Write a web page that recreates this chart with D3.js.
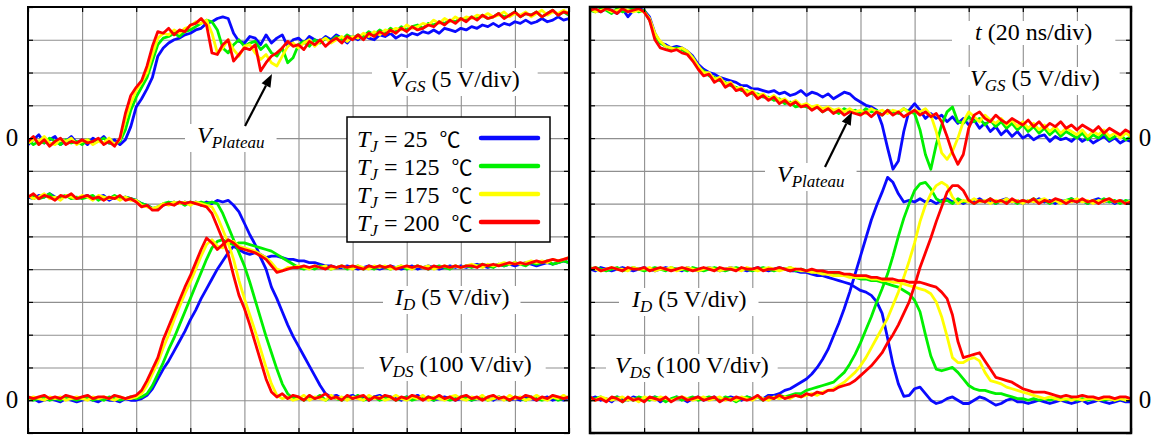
<!DOCTYPE html>
<html>
<head>
<meta charset="utf-8">
<script src="https://cdn.jsdelivr.net/npm/d3@7"></script>
<style>
  body { margin: 0; background: #fff; }
  svg { display: block; }
  text { font-family: "Liberation Serif", "DejaVu Serif", serif; }
</style>
</head>
<body>
<svg id="chart" width="1156" height="435"></svg>
<script>
// scope traces, one sample every 0.1 div (20 ns/div), values in divisions above each trace's own zero line
var temps = ["25", "125", "175", "200"];
var colors = ["#0a0aff", "#00f000", "#ffff00", "#ff0000"];
var serif = "'Liberation Serif', 'DejaVu Serif', serif";

// ---- turn-on (left) ----
var onVgs25 = [-0.2, -0.05, 0.1, -0.15, -0.05, 0.05, -0.2, -0.1, 0.05, -0.15,
  -0.05, -0.2, 0.0, -0.1, 0.05, -0.15, -0.05, -0.2, -0.05, 0.35,
  0.95, 1.2, 1.5, 1.85, 2.5, 2.75, 2.9, 3.0, 3.05, 3.15,
  3.2, 3.3, 3.35, 3.5, 3.55, 3.65, 3.7, 3.65, 3.2, 2.95,
  2.9, 3.1, 3.05, 2.85, 3.15, 2.9, 3.05, 3.15, 2.8, 3.0,
  3.05, 2.9, 3.1, 3.0, 2.95, 3.1, 3.0, 3.15, 3.05, 2.9,
  3.1, 3.0, 3.15, 3.05, 3.0, 3.15, 3.1, 3.2, 3.05, 3.15,
  3.1, 3.2, 3.15, 3.25, 3.2, 3.3, 3.2, 3.35, 3.3, 3.25,
  3.35, 3.3, 3.4, 3.35, 3.45, 3.4, 3.5, 3.4, 3.5, 3.45,
  3.55, 3.5, 3.6, 3.5, 3.55, 3.65, 3.55, 3.6, 3.7, 3.6, 3.65];
var onVgs125 = [-0.05, -0.2, -0.1, -0.15, 0.0, -0.1, -0.2, -0.05, -0.15, -0.1,
  -0.2, -0.05, -0.15, -0.1, 0.0, -0.15, -0.2, -0.1, 0.25, 0.85,
  1.25, 1.55, 1.85, 2.35, 2.85, 3.05, 3.1, 3.2, 3.1, 3.25,
  3.3, 3.4, 3.5, 3.6, 3.55, 3.3, 2.75, 2.6, 2.85, 3.0,
  2.8, 2.9, 2.95, 2.7, 2.85, 2.6, 2.5, 2.75, 2.3, 2.45,
  2.85, 2.95, 2.8, 3.0, 2.9, 3.05, 2.95, 3.1, 3.0, 3.15,
  3.05, 3.15, 3.1, 3.25, 3.15, 3.3, 3.2, 3.35, 3.25, 3.4,
  3.3, 3.4, 3.45, 3.35, 3.5, 3.45, 3.55, 3.5, 3.6, 3.55,
  3.65, 3.6, 3.7, 3.65, 3.75, 3.65, 3.7, 3.8, 3.7, 3.75,
  3.85, 3.7, 3.8, 3.75, 3.85, 3.7, 3.8, 3.9, 3.75, 3.85, 3.75];
var onVgs175 = [-0.15, -0.05, -0.1, 0.05, -0.15, -0.2, -0.05, -0.1, 0.0, -0.2,
  -0.1, -0.05, -0.2, -0.1, -0.15, 0.0, -0.2, -0.05, 0.55, 1.05,
  1.45, 1.7, 2.0, 2.55, 3.05, 3.2, 3.15, 3.3, 3.2, 3.35,
  3.4, 3.55, 3.5, 3.6, 3.2, 2.6, 2.75, 3.0, 2.7, 2.5,
  2.8, 2.85, 2.6, 2.4, 2.55, 2.3, 2.2, 2.5, 2.8, 2.9,
  2.75, 2.9, 3.0, 2.8, 2.95, 3.05, 2.9, 3.0, 3.1, 2.95,
  3.1, 3.05, 3.2, 3.1, 3.25, 3.15, 3.3, 3.25, 3.35, 3.3,
  3.45, 3.35, 3.4, 3.5, 3.45, 3.6, 3.5, 3.65, 3.55, 3.7,
  3.6, 3.7, 3.65, 3.75, 3.7, 3.8, 3.7, 3.75, 3.85, 3.7,
  3.8, 3.75, 3.85, 3.7, 3.8, 3.9, 3.75, 3.85, 3.8, 3.9, 3.8];
var onVgs200 = [-0.1, 0.05, -0.2, -0.05, -0.25, -0.1, 0.0, -0.2, -0.1, -0.15,
  -0.05, -0.15, -0.1, 0.0, -0.2, -0.1, -0.25, 0.0, 0.75, 1.3,
  1.55, 1.75, 2.2, 2.8, 3.25, 3.2, 3.35, 3.15, 3.3, 3.25,
  3.45, 3.5, 3.65, 3.45, 2.6, 2.55, 2.85, 3.0, 2.35, 2.55,
  2.75, 2.7, 2.85, 2.05, 2.3, 2.5, 2.6, 2.75, 2.95, 2.8,
  2.85, 2.7, 2.95, 2.85, 3.0, 2.8, 2.95, 3.05, 2.9, 3.1,
  3.0, 3.15, 3.0, 3.2, 3.1, 3.25, 3.15, 3.3, 3.2, 3.35,
  3.25, 3.4, 3.3, 3.35, 3.45, 3.4, 3.55, 3.45, 3.6, 3.5,
  3.65, 3.55, 3.7, 3.6, 3.75, 3.65, 3.7, 3.8, 3.65, 3.75,
  3.85, 3.7, 3.8, 3.75, 3.85, 3.7, 3.8, 3.9, 3.75, 3.85, 3.8];

var onVds25 = [6.2, 6.15, 6.25, 6.2, 6.3, 6.2, 6.15, 6.25, 6.2, 6.15,
  6.2, 6.25, 6.15, 6.2, 6.25, 6.1, 6.2, 6.15, 6.2, 6.15,
  6.1, 6.0, 5.95, 5.85, 5.85, 5.95, 6.0, 6.05, 6.0, 6.05,
  6.0, 6.05, 5.95, 6.05, 6.0, 6.1, 6.05, 6.1, 5.95, 5.75,
  5.4, 5.05, 4.75, 4.35, 4.0, 3.45, 3.1, 2.7, 2.3, 1.95,
  1.65, 1.35, 1.05, 0.75, 0.45, 0.2, 0.1, 0.15, 0.05, 0.1,
  0.15, 0.05, 0.1, 0.0, 0.1, 0.15, 0.05, 0.1, 0.05, 0.0,
  0.1, 0.05, 0.15, 0.05, 0.1, 0.0, 0.05, 0.1, 0.05, 0.0,
  0.05, 0.1, 0.0, 0.05, 0.1, 0.05, 0.0, 0.1, 0.05, 0.0,
  0.05, 0.0, 0.1, 0.05, 0.0, 0.05, 0.1, 0.0, 0.05, 0.0, 0.05];
var onVds125 = [6.2, 6.25, 6.15, 6.2, 6.3, 6.15, 6.2, 6.25, 6.15, 6.2,
  6.15, 6.2, 6.25, 6.1, 6.2, 6.15, 6.25, 6.15, 6.2, 6.15,
  6.1, 6.0, 5.95, 5.85, 5.9, 6.0, 6.05, 6.0, 6.05, 5.95,
  6.05, 6.0, 6.05, 6.0, 6.05, 6.0, 5.7, 5.3, 4.9, 4.5,
  4.1, 3.6, 3.05, 2.5, 1.95, 1.45, 0.95, 0.5, 0.2, 0.05,
  0.1, 0.0, 0.1, 0.05, 0.15, 0.0, 0.1, 0.05, 0.0, 0.1,
  0.05, 0.15, 0.0, 0.05, 0.1, 0.0, 0.05, 0.1, 0.0, 0.05,
  0.1, 0.0, 0.05, 0.1, 0.05, 0.0, 0.1, 0.05, 0.0, 0.05,
  0.1, 0.05, 0.0, 0.05, 0.1, 0.0, 0.05, 0.1, 0.05, 0.0,
  0.1, 0.05, 0.0, 0.1, 0.05, 0.0, 0.05, 0.1, 0.0, 0.05, 0.1];
var onVds175 = [6.25, 6.15, 6.2, 6.3, 6.15, 6.2, 6.1, 6.25, 6.2, 6.15,
  6.25, 6.2, 6.1, 6.25, 6.2, 6.15, 6.2, 6.1, 6.2, 6.1,
  6.1, 5.95, 5.9, 5.85, 5.9, 6.0, 5.95, 6.05, 6.0, 6.05,
  5.95, 6.05, 6.0, 5.95, 5.9, 5.6, 5.2, 4.8, 4.3, 3.65,
  3.1, 2.6, 2.1, 1.55, 1.0, 0.5, 0.15, 0.05, 0.1, 0.0,
  0.05, 0.15, 0.0, 0.1, 0.05, 0.0, 0.15, 0.05, 0.1, 0.0,
  0.1, 0.05, 0.0, 0.15, 0.05, 0.1, 0.0, 0.05, 0.15, 0.05,
  0.0, 0.1, 0.05, 0.15, 0.0, 0.1, 0.05, 0.0, 0.1, 0.15,
  0.05, 0.0, 0.1, 0.05, 0.15, 0.0, 0.05, 0.1, 0.0, 0.15,
  0.05, 0.1, 0.0, 0.05, 0.15, 0.05, 0.0, 0.1, 0.05, 0.15, 0.05];
var onVds200 = [6.2, 6.3, 6.15, 6.25, 6.2, 6.1, 6.25, 6.2, 6.3, 6.15,
  6.2, 6.25, 6.15, 6.2, 6.1, 6.2, 6.15, 6.25, 6.1, 6.15,
  6.05, 5.9, 5.95, 5.8, 5.8, 5.95, 6.0, 5.95, 6.05, 6.0,
  6.05, 6.0, 5.95, 5.9, 5.7, 5.3, 4.9, 4.45, 3.8, 3.2,
  2.8, 2.3, 1.75, 1.2, 0.65, 0.25, 0.1, 0.2, 0.05, 0.15,
  0.1, 0.0, 0.15, 0.05, 0.1, 0.2, 0.05, 0.1, 0.0, 0.15,
  0.05, 0.1, 0.15, 0.0, 0.1, 0.05, 0.15, 0.1, 0.0, 0.1,
  0.05, 0.15, 0.1, 0.0, 0.1, 0.05, 0.15, 0.05, 0.1, 0.0,
  0.1, 0.15, 0.05, 0.1, 0.0, 0.1, 0.15, 0.05, 0.1, 0.0,
  0.1, 0.05, 0.15, 0.1, 0.0, 0.1, 0.05, 0.15, 0.1, 0.05, 0.1];

var onId25 = [0.0, 0.05, -0.05, 0.0, 0.05, 0.0, -0.05, 0.05, 0.0, -0.05,
  0.0, 0.05, 0.0, -0.05, 0.05, 0.0, 0.0, -0.05, 0.05, 0.0,
  0.0, 0.05, 0.15, 0.35, 0.65, 0.95, 1.2, 1.5, 1.8, 2.1,
  2.45, 2.75, 3.1, 3.4, 3.7, 4.0, 4.25, 4.5, 4.7, 4.6,
  4.5, 4.45, 4.5, 4.45, 4.35, 4.4, 4.4, 4.35, 4.3, 4.3,
  4.25, 4.25, 4.2, 4.2, 4.15, 4.1, 4.1, 4.05, 4.05, 4.1,
  4.05, 4.0, 4.05, 4.1, 4.05, 4.0, 4.05, 4.1, 4.05, 4.0,
  4.05, 4.1, 4.0, 4.05, 4.1, 4.05, 4.0, 4.05, 4.1, 4.05,
  4.1, 4.05, 4.1, 4.15, 4.1, 4.05, 4.1, 4.15, 4.1, 4.15,
  4.1, 4.15, 4.2, 4.15, 4.1, 4.15, 4.2, 4.15, 4.2, 4.25, 4.2];
var onId125 = [0.05, 0.0, 0.05, 0.1, 0.0, 0.05, 0.0, 0.1, 0.05, 0.0,
  0.05, 0.1, 0.0, 0.05, 0.0, 0.1, 0.05, 0.0, 0.05, 0.1,
  0.05, 0.1, 0.2, 0.45, 0.8, 1.15, 1.55, 1.9, 2.3, 2.7,
  3.1, 3.5, 3.9, 4.3, 4.65, 4.85, 4.9, 4.8, 4.75, 4.8,
  4.8, 4.75, 4.7, 4.65, 4.6, 4.55, 4.45, 4.35, 4.25, 4.15,
  4.05, 4.0, 4.05, 4.0, 4.1, 4.05, 4.0, 4.05, 4.1, 4.0,
  4.05, 4.1, 4.0, 4.05, 4.0, 4.1, 4.05, 4.0, 4.05, 4.1,
  4.0, 4.05, 4.1, 4.05, 4.0, 4.05, 4.1, 4.05, 4.0, 4.1,
  4.05, 4.1, 4.05, 4.1, 4.15, 4.1, 4.05, 4.15, 4.1, 4.15,
  4.2, 4.15, 4.1, 4.2, 4.15, 4.2, 4.25, 4.15, 4.2, 4.25, 4.2];
var onId175 = [0.05, 0.1, 0.05, 0.0, 0.1, 0.05, 0.1, 0.0, 0.05, 0.1,
  0.05, 0.0, 0.1, 0.05, 0.1, 0.05, 0.0, 0.1, 0.05, 0.05,
  0.1, 0.2, 0.45, 0.8, 1.15, 1.6, 2.0, 2.45, 2.85, 3.25,
  3.6, 4.0, 4.4, 4.75, 4.9, 4.7, 4.65, 4.85, 4.85, 4.7,
  4.65, 4.6, 4.55, 4.45, 4.35, 4.2, 4.0, 3.95, 4.05, 4.05,
  4.1, 4.05, 4.0, 4.1, 4.05, 4.1, 4.0, 4.05, 4.1, 4.05,
  4.0, 4.1, 4.05, 4.0, 4.1, 4.05, 4.1, 4.0, 4.05, 4.1,
  4.05, 4.0, 4.1, 4.05, 4.1, 4.0, 4.05, 4.1, 4.05, 4.1,
  4.05, 4.1, 4.15, 4.1, 4.05, 4.15, 4.1, 4.15, 4.2, 4.15,
  4.2, 4.15, 4.2, 4.25, 4.2, 4.25, 4.2, 4.3, 4.25, 4.3, 4.35];
var onId200 = [0.1, 0.05, 0.1, 0.15, 0.05, 0.1, 0.05, 0.15, 0.1, 0.05,
  0.1, 0.15, 0.05, 0.1, 0.1, 0.05, 0.15, 0.1, 0.05, 0.1,
  0.15, 0.3, 0.6, 0.95, 1.3, 1.85, 2.25, 2.65, 3.05, 3.45,
  3.8, 4.2, 4.6, 4.95, 4.8, 4.6, 4.75, 4.9, 4.8, 4.65,
  4.6, 4.55, 4.5, 4.4, 4.3, 4.1, 3.9, 3.95, 4.0, 4.05,
  4.05, 4.1, 4.05, 4.1, 4.05, 4.0, 4.1, 4.05, 4.1, 4.05,
  4.1, 4.05, 4.0, 4.1, 4.05, 4.1, 4.05, 4.1, 4.0, 4.05,
  4.1, 4.05, 4.1, 4.05, 4.0, 4.1, 4.05, 4.1, 4.05, 4.1,
  4.05, 4.1, 4.1, 4.05, 4.15, 4.1, 4.15, 4.1, 4.15, 4.2,
  4.15, 4.2, 4.15, 4.2, 4.25, 4.2, 4.25, 4.3, 4.25, 4.3, 4.35];

// ---- turn-off (right) ----
var offVgs25 = [3.95, 3.9, 3.85, 3.95, 3.9, 3.8, 3.95, 3.7, 3.9, 3.95,
  3.9, 3.7, 3.2, 2.9, 2.85, 2.75, 2.8, 2.75, 2.65, 2.5,
  2.25, 2.1, 2.0, 1.95, 1.85, 1.8, 1.75, 1.7, 1.6, 1.6,
  1.5, 1.5, 1.45, 1.4, 1.45, 1.35, 1.4, 1.3, 1.35, 1.45,
  1.3, 1.4, 1.35, 1.25, 1.35, 1.2, 1.3, 1.4, 1.35, 1.2,
  1.1, 1.0, 0.95, 0.85, 0.4, -0.3, -0.95, -0.7, 0.2, 0.85,
  1.05, 0.85, 0.6, 0.75, 0.6, 0.7, 0.5, 0.65, 0.45, 0.6,
  0.4, 0.55, 0.3, 0.45, 0.2, 0.35, 0.1, 0.25, 0.05, 0.2,
  0.0, 0.1, -0.05, 0.05, 0.1, -0.1, 0.05, -0.05, 0.0, -0.1,
  0.05, -0.1, 0.0, -0.15, -0.05, 0.05, -0.1, 0.0, -0.15, -0.05, -0.1];
var offVgs125 = [3.9, 3.85, 3.95, 3.9, 3.8, 3.95, 3.85, 3.9, 3.95, 3.85,
  3.9, 3.6, 3.15, 2.9, 2.8, 2.7, 2.75, 2.7, 2.6, 2.45,
  2.15, 2.05, 1.9, 1.85, 1.75, 1.7, 1.6, 1.55, 1.45, 1.45,
  1.35, 1.35, 1.25, 1.25, 1.15, 1.2, 1.05, 1.1, 0.95, 1.0,
  0.95, 0.9, 0.95, 0.8, 0.9, 0.85, 0.75, 0.9, 0.8, 0.85,
  0.75, 0.9, 0.8, 0.85, 0.7, 0.85, 0.8, 0.75, 0.9, 0.8,
  0.75, 0.25, -0.5, -0.95, -0.2, 0.4, 0.8, 0.95, 0.5, 0.45,
  0.65, 0.5, 0.6, 0.4, 0.55, 0.35, 0.5, 0.3, 0.45, 0.25,
  0.4, 0.2, 0.35, 0.15, 0.3, 0.1, 0.25, 0.05, 0.2, 0.1,
  0.0, 0.15, -0.05, 0.1, 0.0, 0.15, -0.05, 0.05, 0.1, -0.05, 0.05];
var offVgs175 = [3.95, 3.85, 3.9, 3.95, 3.85, 3.9, 3.95, 3.9, 3.85, 3.9,
  3.85, 3.65, 3.2, 2.95, 2.8, 2.75, 2.7, 2.75, 2.65, 2.45,
  2.2, 2.0, 2.0, 1.8, 1.85, 1.65, 1.7, 1.5, 1.55, 1.4,
  1.45, 1.3, 1.35, 1.2, 1.3, 1.15, 1.2, 1.05, 1.15, 1.0,
  1.05, 0.95, 1.0, 0.9, 0.95, 0.85, 0.9, 0.8, 0.9, 0.8,
  0.85, 0.75, 0.9, 0.8, 0.85, 0.75, 0.85, 0.8, 0.9, 0.75,
  0.85, 0.8, 0.9, 0.7, 0.2, -0.45, -0.65, -0.4, 0.0, 0.5,
  0.8, 0.65, 0.5, 0.7, 0.55, 0.45, 0.6, 0.4, 0.55, 0.35,
  0.5, 0.3, 0.45, 0.25, 0.4, 0.2, 0.35, 0.15, 0.3, 0.2,
  0.1, 0.25, 0.05, 0.2, 0.1, 0.25, 0.05, 0.15, 0.0, 0.15, 0.05];
var offVgs200 = [3.9, 3.95, 3.85, 3.95, 3.9, 3.8, 3.95, 3.85, 3.9, 3.95,
  3.85, 3.6, 3.0, 2.75, 2.7, 2.65, 2.7, 2.6, 2.55, 2.35,
  2.1, 1.9, 1.95, 1.7, 1.8, 1.55, 1.65, 1.45, 1.5, 1.3,
  1.4, 1.2, 1.3, 1.15, 1.25, 1.05, 1.15, 1.0, 1.1, 0.95,
  1.0, 0.85, 0.95, 0.8, 0.9, 0.75, 0.85, 0.7, 0.8, 0.75,
  0.7, 0.8, 0.65, 0.8, 0.7, 0.85, 0.7, 0.8, 0.65, 0.75,
  0.85, 0.7, 0.8, 0.65, 0.75, 0.5, 0.05, -0.45, -0.8, -0.5,
  0.3, 0.7, 0.8, 0.6, 0.5, 0.7, 0.55, 0.45, 0.6, 0.5,
  0.4, 0.55, 0.35, 0.5, 0.3, 0.45, 0.35, 0.5, 0.3, 0.4,
  0.25, 0.4, 0.3, 0.2, 0.35, 0.15, 0.3, 0.2, 0.1, 0.25, 0.15];

var offVds25 = [0.05, 0.1, 0.0, 0.05, -0.05, 0.1, 0.05, 0.0, 0.1, 0.05,
  0.0, 0.05, 0.1, -0.05, 0.05, 0.0, 0.1, 0.05, -0.05, 0.05,
  0.1, 0.0, 0.05, 0.1, 0.0, 0.05, 0.1, 0.05, 0.0, 0.1,
  0.05, 0.1, 0.05, 0.15, 0.15, 0.2, 0.3, 0.35, 0.45, 0.55,
  0.65, 0.8, 1.0, 1.25, 1.55, 1.95, 2.35, 2.8, 3.3, 3.85,
  4.4, 4.95, 5.5, 5.95, 6.35, 6.8, 6.65, 6.3, 6.05, 6.1,
  6.05, 6.15, 6.05, 6.1, 6.0, 6.1, 6.15, 6.05, 6.1, 6.0,
  6.1, 6.05, 6.15, 6.05, 6.1, 6.0, 6.1, 6.15, 6.05, 6.1,
  6.0, 6.1, 6.05, 6.15, 6.05, 6.1, 6.0, 6.1, 6.05, 6.15,
  6.05, 6.1, 6.0, 6.1, 6.15, 6.05, 6.1, 6.0, 6.1, 6.05, 6.1];
var offVds125 = [0.0, 0.05, 0.1, 0.0, 0.05, 0.1, -0.05, 0.05, 0.0, 0.1,
  0.05, 0.0, 0.1, 0.05, -0.05, 0.05, 0.1, 0.0, 0.05, 0.1,
  0.0, 0.05, 0.1, 0.05, 0.0, 0.1, 0.05, -0.05, 0.05, 0.1,
  0.05, 0.1, 0.0, 0.1, 0.05, 0.15, 0.1, 0.15, 0.2, 0.2,
  0.3, 0.35, 0.4, 0.45, 0.5, 0.55, 0.7, 0.85, 1.1, 1.4,
  1.75, 2.15, 2.55, 3.0, 3.4, 3.85, 4.4, 5.0, 5.55, 6.0,
  6.4, 6.6, 6.65, 6.45, 6.15, 6.05, 6.1, 6.0, 6.15, 6.05,
  6.1, 6.0, 6.1, 6.05, 6.15, 6.0, 6.1, 6.05, 6.1, 6.0,
  6.1, 6.05, 6.15, 6.05, 6.1, 6.0, 6.1, 6.05, 6.1, 6.15,
  6.05, 6.1, 6.0, 6.1, 6.05, 6.15, 6.05, 6.1, 6.0, 6.1, 6.05];
var offVds175 = [0.05, 0.0, 0.1, 0.05, 0.0, 0.05, 0.1, 0.0, 0.05, -0.05,
  0.1, 0.05, 0.0, 0.1, 0.05, 0.0, 0.05, 0.1, 0.05, 0.0,
  0.05, 0.1, 0.0, 0.05, 0.1, 0.0, 0.05, 0.0, 0.1, 0.05,
  0.0, 0.1, 0.05, 0.0, 0.1, 0.05, 0.1, 0.05, 0.15, 0.1,
  0.15, 0.2, 0.15, 0.25, 0.3, 0.35, 0.45, 0.55, 0.7, 0.85,
  1.05, 1.3, 1.6, 1.9, 2.2, 2.5, 2.9, 3.3, 3.75, 4.25,
  4.8, 5.45, 5.95, 6.3, 6.55, 6.65, 6.55, 6.2, 6.0, 6.1,
  6.05, 6.15, 6.05, 6.1, 6.0, 6.1, 6.05, 6.15, 6.05, 6.1,
  6.0, 6.1, 6.05, 6.1, 6.15, 6.05, 6.1, 6.0, 6.1, 6.05,
  6.15, 6.05, 6.1, 6.0, 6.1, 6.05, 6.15, 6.05, 6.1, 6.0, 6.1];
var offVds200 = [0.1, 0.0, 0.05, -0.05, 0.1, 0.05, -0.05, 0.1, 0.0, 0.05,
  -0.05, 0.1, 0.05, 0.0, 0.1, -0.05, 0.05, 0.1, 0.0, 0.05,
  0.1, 0.0, 0.05, 0.1, -0.05, 0.05, 0.0, 0.1, 0.05, 0.0,
  0.05, 0.15, 0.0, 0.1, 0.05, 0.15, 0.05, 0.1, 0.15, 0.1,
  0.2, 0.15, 0.25, 0.2, 0.3, 0.3, 0.4, 0.45, 0.5, 0.6,
  0.75, 0.9, 1.05, 1.25, 1.45, 1.75, 2.0, 2.3, 2.65, 3.0,
  3.5, 4.05, 4.5, 4.95, 5.45, 5.9, 6.35, 6.55, 6.55, 6.4,
  6.1, 6.0, 6.1, 6.05, 6.15, 6.05, 6.1, 6.0, 6.15, 6.05,
  6.1, 6.05, 6.15, 6.0, 6.1, 6.05, 6.15, 6.1, 6.0, 6.1,
  6.05, 6.15, 6.05, 6.1, 6.0, 6.1, 6.15, 6.05, 6.1, 6.0, 6.05];

var offId25 = [4.0, 3.95, 4.05, 4.0, 3.95, 4.0, 4.05, 4.0, 3.95, 4.0,
  4.05, 4.0, 3.95, 4.0, 4.05, 4.0, 4.0, 3.95, 4.05, 4.0,
  3.95, 4.0, 4.05, 4.0, 3.95, 4.0, 4.05, 4.0, 4.0, 3.95,
  4.0, 4.05, 4.0, 3.95, 4.0, 4.05, 4.0, 3.95, 3.95, 3.9,
  3.9, 3.85, 3.8, 3.8, 3.75, 3.7, 3.65, 3.6, 3.55, 3.45,
  3.35, 3.3, 3.2, 3.0, 2.65, 1.9, 1.1, 0.5, 0.12, 0.15,
  0.35, 0.4, 0.2, 0.0, -0.1, -0.05, 0.05, 0.1, 0.0, -0.1,
  -0.1, 0.0, 0.1, 0.05, -0.05, -0.15, -0.1, 0.0, 0.05, -0.05,
  -0.05, -0.1, -0.05, 0.0, -0.05, -0.1, -0.05, 0.0, -0.05, -0.1,
  -0.05, 0.0, -0.1, -0.05, 0.0, -0.05, -0.1, -0.05, 0.0, -0.05, -0.05];
var offId125 = [4.0, 4.05, 4.0, 3.95, 4.0, 4.05, 3.95, 4.0, 4.05, 4.0,
  3.95, 4.0, 4.05, 4.0, 3.95, 4.05, 4.0, 4.0, 3.95, 4.05,
  4.0, 3.95, 4.0, 4.05, 4.0, 3.95, 4.0, 4.05, 4.0, 4.0,
  3.95, 4.0, 4.05, 4.0, 3.95, 4.0, 4.0, 4.05, 3.95, 4.0,
  3.95, 3.95, 3.9, 3.9, 3.9, 3.85, 3.85, 3.8, 3.8, 3.75,
  3.7, 3.7, 3.65, 3.65, 3.6, 3.55, 3.5, 3.45, 3.35, 3.25,
  3.05, 2.7, 2.0, 1.35, 0.95, 0.9, 0.95, 1.0, 0.85, 0.65,
  0.45, 0.35, 0.3, 0.3, 0.25, 0.2, 0.2, 0.15, 0.1, 0.05,
  0.05, 0.0, 0.05, 0.0, 0.05, 0.0, 0.05, 0.05, 0.0, 0.05,
  0.0, 0.05, 0.0, 0.05, 0.05, 0.0, 0.05, 0.0, 0.05, 0.0, 0.05];
var offId175 = [4.05, 4.0, 3.95, 4.0, 4.05, 4.0, 4.0, 3.95, 4.05, 4.0,
  4.0, 4.05, 3.95, 4.0, 4.0, 4.05, 3.95, 4.0, 4.05, 4.0,
  3.95, 4.0, 4.05, 4.0, 3.95, 4.0, 4.05, 4.0, 3.95, 4.05,
  4.0, 3.95, 4.0, 4.05, 4.0, 3.95, 4.0, 4.05, 4.0, 3.95,
  3.95, 3.9, 3.9, 3.85, 3.85, 3.8, 3.8, 3.8, 3.75, 3.75,
  3.75, 3.75, 3.7, 3.7, 3.65, 3.65, 3.6, 3.6, 3.55, 3.5,
  3.45, 3.4, 3.35, 3.25, 3.0, 2.55, 1.95, 1.3, 1.15, 1.15,
  1.25, 1.3, 1.2, 0.85, 0.6, 0.55, 0.5, 0.4, 0.35, 0.3,
  0.25, 0.2, 0.15, 0.1, 0.05, 0.1, 0.05, 0.0, 0.05, 0.0,
  0.05, 0.0, 0.05, 0.05, 0.0, 0.05, 0.05, 0.0, 0.05, 0.0, 0.05];
var offId200 = [4.0, 4.05, 3.95, 4.0, 4.05, 4.0, 3.95, 4.05, 4.0, 4.0,
  4.05, 3.95, 4.0, 4.05, 4.0, 3.95, 4.0, 4.05, 4.0, 3.95,
  4.0, 4.05, 4.0, 3.95, 4.05, 4.0, 4.0, 3.95, 4.05, 4.0,
  4.0, 4.05, 3.95, 4.0, 4.0, 4.05, 4.0, 3.95, 4.0, 4.0,
  3.95, 4.0, 3.95, 3.95, 3.9, 3.9, 3.9, 3.85, 3.85, 3.8,
  3.8, 3.8, 3.75, 3.75, 3.7, 3.7, 3.7, 3.65, 3.65, 3.6,
  3.6, 3.6, 3.55, 3.5, 3.45, 3.3, 3.1, 2.6, 1.8, 1.3,
  1.35, 1.4, 1.45, 1.2, 0.95, 0.7, 0.65, 0.6, 0.55, 0.45,
  0.35, 0.3, 0.25, 0.25, 0.25, 0.2, 0.15, 0.1, 0.15, 0.1,
  0.1, 0.15, 0.1, 0.1, 0.05, 0.1, 0.1, 0.05, 0.1, 0.1, 0.05];

// zero line of each trace, in divisions from the bottom of the screen
var zeroVgs = 9, zeroVdsId = 1;
var gridCols = d3.range(0, 11), gridRows = d3.range(0, 14);

var panels = [
  { x0: 28, x1: 569,
    traces: [[onVgs25, onVgs125, onVgs175, onVgs200], [onVds25, onVds125, onVds175, onVds200], [onId25, onId125, onId175, onId200]],
    zeros: [zeroVgs, zeroVdsId, zeroVdsId], zeroLabelX: 12 },
  { x0: 590, x1: 1131,
    traces: [[offVgs25, offVgs125, offVgs175, offVgs200], [offVds25, offVds125, offVds175, offVds200], [offId25, offId125, offId175, offId200]],
    zeros: [zeroVgs, zeroVdsId, zeroVdsId], zeroLabelX: 1145 }
];

var svg = d3.select("#chart").attr("font-family", serif);
var y = d3.scaleLinear().domain([0, 13]).range([433, 7]);
var layers = {};
["grid", "box", "trace", "text", "frame"].forEach(function(n) { layers[n] = svg.append("g"); });

panels.forEach(function(p, pi) {
  var x = d3.scaleLinear().domain([0, 10]).range([p.x0, p.x1]);
  var w = p.x1 - p.x0, h = 433 - 7;

  // grid lines
  layers.grid.append("g").attr("transform", "translate(0,433)")
    .call(d3.axisBottom(x).tickValues(gridCols).tickSize(-h).tickFormat(""));
  layers.grid.append("g").attr("transform", "translate(" + p.x0 + ",0)")
    .call(d3.axisLeft(y).tickValues(gridRows).tickSize(-w).tickFormat(""));

  // little inner ticks on the frame
  layers.frame.append("g").attr("transform", "translate(0,7)").call(d3.axisTop(x).tickValues(gridCols).tickSize(-5).tickFormat(""));
  layers.frame.append("g").attr("transform", "translate(0,433)").call(d3.axisBottom(x).tickValues(gridCols).tickSize(-5).tickFormat(""));
  layers.frame.append("g").attr("transform", "translate(" + p.x0 + ",0)").call(d3.axisLeft(y).tickValues(gridRows).tickSize(-5).tickFormat(""));
  layers.frame.append("g").attr("transform", "translate(" + p.x1 + ",0)").call(d3.axisRight(y).tickValues(gridRows).tickSize(-5).tickFormat(""));
  layers.frame.append("rect")
    .attr("x", p.x0).attr("y", 7).attr("width", w).attr("height", h)
    .attr("fill", "none").attr("stroke", "#000").attr("stroke-width", pi == 1 ? 2.5 : 2);

  // clip traces to the screen
  svg.append("clipPath").attr("id", "clip" + pi).append("rect")
    .attr("x", p.x0).attr("y", 7).attr("width", w).attr("height", h);
  var tg = layers.trace.append("g").attr("clip-path", "url(#clip" + pi + ")");

  // draw one temperature at a time, red ends up on top
  temps.forEach(function(t, ti) {
    p.traces.forEach(function(group, k) {
      var zero = p.zeros[k];
      var line = d3.line()
        .x(function(d, i) { return x(i / 10); })
        .y(function(d) { return y(zero + d); });
      tg.append("path")
        .attr("d", line(group[ti]))
        .attr("fill", "none")
        .attr("stroke", colors[ti])
        .attr("stroke-width", 2.8)
        .attr("stroke-linejoin", "round");
    });
  });

  // zero markers
  [zeroVgs, zeroVdsId].forEach(function(z) {
    layers.text.append("text").attr("x", p.zeroLabelX).attr("y", y(z) + 8)
      .attr("font-family", serif).attr("text-anchor", "middle").attr("font-size", 25).text("0");
  });
});

layers.grid.selectAll(".domain").remove();
layers.grid.selectAll(".tick line").attr("stroke", "#8f8f8f").attr("stroke-width", 1.1);
layers.frame.selectAll(".domain").remove();
layers.frame.selectAll(".tick line").attr("stroke", "#000").attr("stroke-width", 1.2);

// text with italic symbol + subscript, white patch behind it
function label(x, yb, sym, sub, rest, pad) {
  var t = layers.text.append("text").attr("x", x).attr("y", yb)
    .attr("font-family", serif).attr("font-size", 24);
  t.append("tspan").attr("font-style", "italic").text(sym);
  if (sub) t.append("tspan").attr("font-style", "italic").attr("font-size", 17).attr("dy", 5).text(sub);
  if (rest) t.append("tspan").attr("dy", sub ? -5 : 0).text(rest);
  var b = t.node().getBBox();
  layers.box.append("rect")
    .attr("x", b.x - pad).attr("y", b.y + 2).attr("width", b.width + 2 * pad).attr("height", b.height - 2)
    .attr("fill", "#fff");
}

label(390, 87, "V", "GS", " (5 V/div)", 18);
label(197, 143, "V", "Plateau", null, 12);
label(395, 305, "I", "D", " (5 V/div)", 11);
label(378, 372, "V", "DS", " (100 V/div)", 14);

label(975, 40, "t", null, " (20 ns/div)", 23);
label(970, 86, "V", "GS", " (5 V/div)", 20);
label(777, 182, "V", "Plateau", null, 12);
label(632, 307, "I", "D", " (5 V/div)", 12);
label(615, 373, "V", "DS", " (100 V/div)", 9);

// arrows to the plateau
function arrow(x1, y1, x2, y2) {
  var a = Math.atan2(y2 - y1, x2 - x1), L = 13, W = 5;
  var bx = x2 - L * Math.cos(a), by = y2 - L * Math.sin(a);
  layers.text.append("line").attr("x1", x1).attr("y1", y1).attr("x2", bx).attr("y2", by)
    .attr("stroke", "#000").attr("stroke-width", 2.2);
  layers.text.append("path")
    .attr("d", "M" + x2 + "," + y2 +
      "L" + (bx + W * Math.sin(a)) + "," + (by - W * Math.cos(a)) +
      "L" + (bx - W * Math.sin(a)) + "," + (by + W * Math.cos(a)) + "Z")
    .attr("fill", "#000");
}
arrow(245, 126, 272, 74);
arrow(825, 167, 852, 112);

// legend
var lg = layers.text.append("g");
lg.append("rect").attr("x", 347).attr("y", 117).attr("width", 203).attr("height", 125)
  .attr("fill", "#fff").attr("stroke", "#000").attr("stroke-width", 1.5);
temps.forEach(function(t, i) {
  var by = 147 + i * 28;
  var tx = lg.append("text").attr("x", 357).attr("y", by).attr("font-family", serif).attr("font-size", 24);
  tx.append("tspan").attr("font-style", "italic").text("T");
  tx.append("tspan").attr("font-style", "italic").attr("font-size", 17).attr("dy", 5).text("J");
  tx.append("tspan").attr("dy", -5).text(" = " + t + "\u00a0\u00a0");
  tx.append("tspan").attr("font-family", "'Noto Sans CJK SC', 'DejaVu Serif', serif").attr("font-size", 21).text("\u2103");
  lg.append("line").attr("x1", 481).attr("x2", 538).attr("y1", by - 9).attr("y2", by - 9)
    .attr("stroke", colors[i]).attr("stroke-width", 4.5).attr("stroke-linecap", "round");
});
</script>
</body>
</html>
